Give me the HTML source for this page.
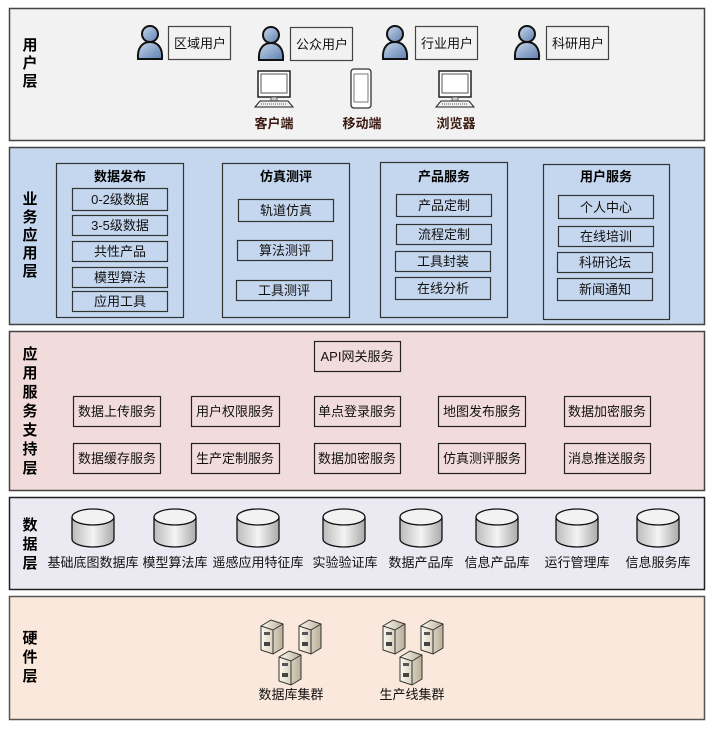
<!DOCTYPE html>
<html><head><meta charset="utf-8"><style>
html,body{margin:0;padding:0;background:#fff;}
svg{display:block;}
text{font-family:"Liberation Sans","Noto Sans CJK SC",sans-serif;}
</style></head><body>
<svg width="714" height="729" viewBox="0 0 714 729" xmlns="http://www.w3.org/2000/svg">
<defs>
<linearGradient id="pg" x1="0" y1="0" x2="1" y2="1"><stop offset="0" stop-color="#c8d8ec"/><stop offset="1" stop-color="#5d7fae"/></linearGradient>
<linearGradient id="cg" x1="0" y1="0" x2="1" y2="0"><stop offset="0" stop-color="#bbb"/><stop offset=".5" stop-color="#f4f4f4"/><stop offset="1" stop-color="#aaa"/></linearGradient>
<linearGradient id="sg" x1="0" y1="0" x2="1" y2="0"><stop offset="0" stop-color="#fffaf0"/><stop offset="1" stop-color="#b8ae98"/></linearGradient>
<g id="person"><circle cx="13" cy="9" r="8" fill="url(#pg)" stroke="#111" stroke-width="2"/><path d="M1,34 C0,22 6,17 13,17 C20,17 26,22 25,34 Z" fill="url(#pg)" stroke="#111" stroke-width="2"/></g>
<g id="pc"><rect x="3" y="0" width="32" height="26" fill="#fff" stroke="#222" stroke-width="1.5"/><rect x="6" y="3" width="26" height="19" fill="#fff" stroke="#555"/><rect x="16" y="26" width="6" height="4" fill="#ccc" stroke="#333" stroke-width=".7"/><path d="M5,30 L33,30 L38,36 L0,36 Z" fill="#eee" stroke="#222"/><line x1="6" y1="33" x2="32" y2="33" stroke="#666" stroke-dasharray="1 1"/></g>
<g id="cyl"><path d="M0,8 L0,30 A21,8 0 0 0 42,30 L42,8" fill="url(#cg)" stroke="#111" stroke-width="1.3"/><ellipse cx="21" cy="8" rx="21" ry="8" fill="#f2f2f2" stroke="#111" stroke-width="1.3"/></g>
<g id="srv"><path d="M0,6 L10,0 L22,4 L22,28 L12,34 L0,30 Z" fill="url(#sg)" stroke="#333"/><path d="M0,6 L12,10 L22,4 M12,10 L12,34" fill="none" stroke="#333"/><rect x="3" y="12" width="6" height="3" fill="#555"/><rect x="3" y="22" width="6" height="4" fill="#444"/></g>
</defs>
<rect x="9.5" y="8.5" width="695" height="132" fill="#f2f2f2" stroke="#444" stroke-width="1.5"/>
<rect x="9.5" y="147.5" width="695" height="177" fill="#c5d7ee" stroke="#444" stroke-width="1.5"/>
<rect x="9.5" y="331.5" width="695" height="159" fill="#f2dcdb" stroke="#444" stroke-width="1.5"/>
<rect x="9.5" y="497.5" width="695" height="92" fill="#ebe9f2" stroke="#222" stroke-width="1.5"/>
<rect x="9.5" y="596.5" width="695" height="123" fill="#fbe8dc" stroke="#555" stroke-width="1.5"/>
<g font-weight="bold" font-size="15" fill="#000" text-anchor="middle">
<text x="30" y="50">用</text><text x="30" y="68">户</text><text x="30" y="86">层</text>
<text x="30" y="204">业</text><text x="30" y="222">务</text><text x="30" y="240">应</text><text x="30" y="258">用</text><text x="30" y="276">层</text>
<text x="30" y="359">应</text><text x="30" y="378">用</text><text x="30" y="397">服</text><text x="30" y="416">务</text><text x="30" y="435">支</text><text x="30" y="454">持</text><text x="30" y="473">层</text>
<text x="30" y="530">数</text><text x="30" y="549">据</text><text x="30" y="568">层</text>
<text x="30" y="643">硬</text><text x="30" y="662">件</text><text x="30" y="681">层</text>
</g>
<use href="#person" x="137" y="25"/><use href="#person" x="258" y="26"/><use href="#person" x="382" y="25"/><use href="#person" x="514" y="25"/>
<g fill="none" stroke="#444" stroke-width="1.2"><rect x="168.5" y="26.5" width="62" height="33"/><rect x="290.5" y="27.5" width="62" height="33"/><rect x="415.5" y="26.5" width="62" height="33"/><rect x="546.5" y="26.5" width="62" height="33"/></g>
<g font-size="13" text-anchor="middle" fill="#111"><text x="200" y="48">区域用户</text><text x="322" y="49">公众用户</text><text x="447" y="48">行业用户</text><text x="578" y="48">科研用户</text></g>
<use href="#pc" x="255" y="71"/><use href="#pc" x="436" y="71"/>
<rect x="351" y="69" width="20" height="39" rx="3" fill="#fff" stroke="#333" stroke-width="1.3"/><rect x="354" y="74" width="14" height="28" fill="#fff" stroke="#777"/>
<g font-size="13" font-weight="bold" text-anchor="middle" fill="#3a1a10"><text x="274" y="128">客户端</text><text x="362" y="128">移动端</text><text x="456" y="128">浏览器</text></g>
<g fill="none" stroke="#333" stroke-width="1.2"><rect x="56.5" y="163.5" width="127" height="154"/><rect x="222.5" y="163.5" width="127" height="154"/><rect x="380.5" y="162.5" width="127" height="155"/><rect x="543.5" y="164.5" width="126" height="155"/></g>
<g font-size="13" font-weight="bold" text-anchor="middle"><text x="120" y="181">数据发布</text><text x="286" y="181">仿真测评</text><text x="444" y="181">产品服务</text><text x="606" y="181">用户服务</text></g>
<g fill="none" stroke="#333" stroke-width="1.2">
<rect x="72.5" y="188.5" width="95" height="22"/><rect x="72.5" y="215.5" width="95" height="20"/><rect x="72.5" y="241.5" width="95" height="20"/><rect x="72.5" y="267.5" width="95" height="20"/><rect x="72.5" y="291.5" width="95" height="20"/>
<rect x="238.5" y="199.5" width="95" height="22"/><rect x="237.5" y="240.5" width="95" height="20"/><rect x="236.5" y="280.5" width="95" height="20"/>
<rect x="396.5" y="194.5" width="95" height="22"/><rect x="396.5" y="224.5" width="95" height="20"/><rect x="395.5" y="251.5" width="95" height="20"/><rect x="395.5" y="277.5" width="95" height="22"/>
<rect x="558.5" y="195.5" width="95" height="23"/><rect x="558.5" y="226.5" width="95" height="20"/><rect x="557.5" y="252.5" width="95" height="20"/><rect x="557.5" y="278.5" width="95" height="22"/>
</g>
<g font-size="13" text-anchor="middle" fill="#111">
<text x="120" y="204">0-2级数据</text><text x="120" y="230">3-5级数据</text><text x="120" y="256">共性产品</text><text x="120" y="282">模型算法</text><text x="120" y="306">应用工具</text>
<text x="286" y="215">轨道仿真</text><text x="285" y="255">算法测评</text><text x="284" y="295">工具测评</text>
<text x="444" y="210">产品定制</text><text x="444" y="239">流程定制</text><text x="443" y="266">工具封装</text><text x="443" y="293">在线分析</text>
<text x="606" y="212">个人中心</text><text x="606" y="241">在线培训</text><text x="605" y="267">科研论坛</text><text x="605" y="294">新闻通知</text>
</g>
<g fill="none" stroke="#222" stroke-width="1.2">
<rect x="314.5" y="341.5" width="86" height="30"/>
<rect x="73.5" y="396.5" width="87" height="30"/><rect x="191.5" y="396.5" width="88" height="30"/><rect x="314.5" y="396.5" width="86" height="30"/><rect x="438.5" y="396.5" width="87" height="30"/><rect x="564.5" y="396.5" width="86" height="30"/>
<rect x="73.5" y="443.5" width="87" height="30"/><rect x="191.5" y="443.5" width="88" height="30"/><rect x="314.5" y="443.5" width="86" height="30"/><rect x="438.5" y="443.5" width="87" height="30"/><rect x="564.5" y="443.5" width="86" height="30"/>
</g>
<g font-size="13" text-anchor="middle" fill="#111">
<text x="357" y="361">API网关服务</text>
<text x="117" y="416">数据上传服务</text><text x="235" y="416">用户权限服务</text><text x="357" y="416">单点登录服务</text><text x="482" y="416">地图发布服务</text><text x="607" y="416">数据加密服务</text>
<text x="117" y="463">数据缓存服务</text><text x="235" y="463">生产定制服务</text><text x="357" y="463">数据加密服务</text><text x="482" y="463">仿真测评服务</text><text x="607" y="463">消息推送服务</text>
</g>
<use href="#cyl" x="72" y="509"/><use href="#cyl" x="154" y="509"/><use href="#cyl" x="237" y="509"/><use href="#cyl" x="323" y="509"/><use href="#cyl" x="400" y="509"/><use href="#cyl" x="476" y="509"/><use href="#cyl" x="556" y="509"/><use href="#cyl" x="637" y="509"/>
<g font-size="13" text-anchor="middle" fill="#111">
<text x="93" y="567">基础底图数据库</text><text x="175" y="567">模型算法库</text><text x="258" y="567">遥感应用特征库</text><text x="345" y="567">实验验证库</text><text x="421" y="567">数据产品库</text><text x="497" y="567">信息产品库</text><text x="577" y="567">运行管理库</text><text x="658" y="567">信息服务库</text>
</g>
<use href="#srv" x="261" y="620"/><use href="#srv" x="299" y="620"/><use href="#srv" x="279" y="651"/>
<use href="#srv" x="383" y="620"/><use href="#srv" x="421" y="620"/><use href="#srv" x="400" y="651"/>
<g font-size="13" text-anchor="middle" fill="#111"><text x="291" y="699">数据库集群</text><text x="412" y="699">生产线集群</text></g>
</svg>
</body></html>
